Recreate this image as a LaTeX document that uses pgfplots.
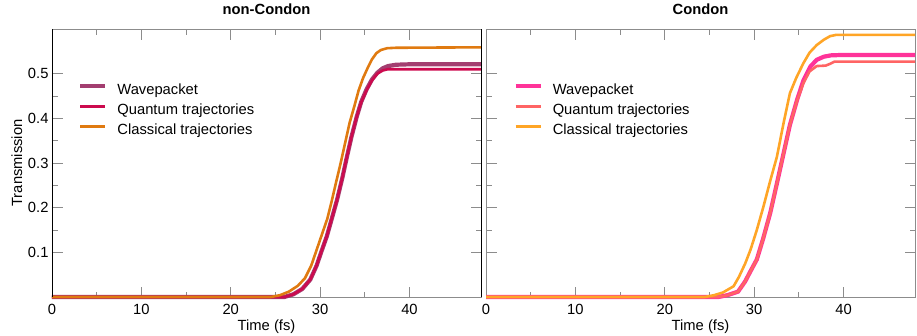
\documentclass[border=0pt]{standalone}
\usepackage{pgfplots}
\pgfplotsset{compat=1.18}
\usepackage{fontspec}
\setmainfont{Liberation Sans}

\definecolor{wpA}{HTML}{9E3468}
\definecolor{qtA}{HTML}{CC0A4E}
\definecolor{ctA}{HTML}{E07A10}
\definecolor{wpB}{HTML}{FF3399}
\definecolor{qtB}{HTML}{FF6464}
\definecolor{ctB}{HTML}{FFA526}
\definecolor{spine}{HTML}{8C8C8C}

\newcommand{\lblfont}{\fontsize{14.8}{17}\selectfont}

\pgfplotsset{
  panel/.style={
    scale only axis,
    width=429bp, height=268bp,
    xmin=0, xmax=48, ymin=0, ymax=0.6,
    xtick={0,10,20,30,40},
    ytick={0.1,0.2,0.3,0.4,0.5},
    minor x tick num=1, minor y tick num=1,
    tick align=inside,
    major tick length=10.5bp, minor tick length=5.5bp,
    every tick/.style={spine, line width=0.9bp},
    axis line style={spine, line width=0.9bp},
    tick label style={font=\lblfont},
    /pgf/number format/assume math mode=true,
    xticklabel style={anchor=base, yshift=-17bp},
    xlabel={Time (fs)},
    xlabel style={at={(axis description cs:0.5,0)}, anchor=base, yshift=-33bp,
                  font=\lblfont},
    title style={at={(axis description cs:0.5,1)}, anchor=base, yshift=9bp,
                 font=\lblfont\bfseries},
    legend cell align=left,
    legend style={draw=none, fill=none, anchor=north west,
                  font=\lblfont,
                  inner xsep=0pt, inner ysep=0pt, row sep=6bp,
                  nodes={inner sep=0pt, text height=11bp, text depth=3bp},
                  /tikz/every odd column/.append style={column sep=10bp}},
    legend image code/.code={\draw[##1] (0bp,4bp) -- (25bp,4bp);},
    clip=false,
  },
}

\begin{document}
\begin{tikzpicture}
% ---------- non-Condon ----------
\begin{axis}[panel, at={(0,0)}, anchor=south west,
  title={non-Condon},
  ylabel={Transmission},
  ylabel style={at={(axis description cs:-0.0699,0.5)}, rotate=0, anchor=base,
                font=\lblfont},
  legend style={at={(axis description cs:0.0606,0.7985)}},
  after end axis/.code={
    \draw[black, line width=0.9bp] (rel axis cs:0,0) -- (rel axis cs:0,1);
    \draw[black, line width=0.9bp] (rel axis cs:1,0) -- (rel axis cs:1,1);
  },
]
\addplot[wpA, line width=4.2bp, opacity=0.95] coordinates {
 (0,0) (26,0) (27,0.006) (28,0.018) (28.9,0.039) (29.6,0.07) (30.2,0.105)
 (30.75,0.136) (31.3,0.175) (31.9,0.218) (32.5,0.268) (33.0,0.314)
 (33.5,0.358) (34.1,0.404) (34.6,0.437) (35.2,0.465) (35.8,0.487)
 (36.4,0.502) (37.0,0.512) (37.6,0.517) (38.5,0.520) (40,0.521) (48,0.521)};
\addlegendentry{Wavepacket}
\addplot[qtA, line width=2.6bp] coordinates {
 (0,0) (26,0) (27,0.006) (28,0.018) (28.9,0.039) (29.6,0.07) (30.2,0.105)
 (30.75,0.136) (31.3,0.175) (31.9,0.218) (32.5,0.268) (33.0,0.314)
 (33.5,0.358) (34.1,0.404) (34.6,0.436) (35.2,0.463) (35.8,0.485)
 (36.4,0.500) (37.0,0.507) (37.6,0.510) (48,0.510)};
\addlegendentry{Quantum trajectories}
\addplot[ctA, line width=2.6bp] coordinates {
 (0,0) (24.5,0) (25.5,0.004) (26.5,0.012) (27.5,0.025) (28.3,0.042)
 (29.0,0.07) (29.6,0.105) (30.2,0.14) (30.8,0.175) (31.3,0.215)
 (31.8,0.258) (32.3,0.30) (32.8,0.345) (33.3,0.39) (33.8,0.425)
 (34.3,0.462) (34.8,0.49) (35.3,0.512) (35.8,0.532) (36.3,0.546)
 (36.8,0.553) (37.5,0.557) (38.5,0.558) (48,0.559)};
\addlegendentry{Classical trajectories}
\end{axis}

% ---------- Condon ----------
\begin{axis}[panel, at={(434bp,0)}, anchor=south west,
  title={Condon},
  yticklabels={},
  legend style={at={(axis description cs:0.0638,0.7985)}},
]
\addplot[wpB, line width=4.2bp] coordinates {
 (0,0) (26,0) (27,0.004) (28.2,0.012) (29.0,0.035) (29.6,0.058)
 (30.3,0.084) (31.0,0.13) (31.8,0.188) (32.5,0.25) (33.3,0.322)
 (34.0,0.385) (34.8,0.441) (35.5,0.484) (36.3,0.516) (37.0,0.531)
 (37.8,0.538) (38.6,0.541) (40,0.542) (48,0.542)};
\addlegendentry{Wavepacket}
\addplot[qtB, line width=2.6bp] coordinates {
 (0,0) (26,0) (27,0.004) (28.2,0.012) (29.0,0.035) (29.6,0.058)
 (30.3,0.084) (31.0,0.13) (31.8,0.188) (32.5,0.25) (33.3,0.322)
 (34.0,0.385) (34.8,0.440) (35.5,0.478) (36.2,0.505) (37.0,0.517)
 (38.0,0.518) (38.5,0.522) (39.0,0.527) (48,0.527)};
\addlegendentry{Quantum trajectories}
\addplot[ctB, line width=2.6bp] coordinates {
 (0,0) (24.5,0) (25.5,0.004) (26.5,0.01) (27.7,0.024) (28.3,0.045)
 (29.0,0.075) (29.6,0.106) (30.3,0.15) (31.05,0.203) (31.8,0.26)
 (32.55,0.314) (33.3,0.39) (34.0,0.456) (34.7,0.49) (35.5,0.523)
 (36.2,0.547) (37.0,0.564) (37.8,0.576) (38.5,0.584) (39.2,0.587)
 (48,0.587)};
\addlegendentry{Classical trajectories}
\end{axis}

\pgfresetboundingbox
\path (-52bp,-39bp) rectangle (865bp,297bp);
\end{tikzpicture}
\end{document}
